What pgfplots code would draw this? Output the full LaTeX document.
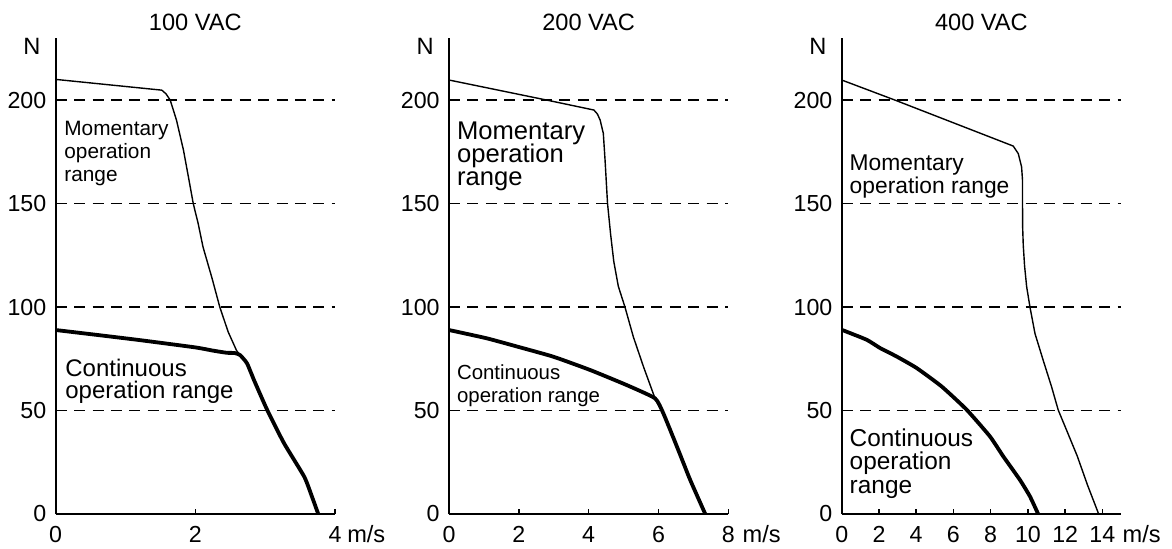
\documentclass[border=0pt]{standalone}
\usepackage{fontspec}
\setmainfont{Liberation Sans}
\usepackage{pgfplots}
\pgfplotsset{compat=1.18}
\newcommand\fs[1]{\fontsize{#1}{#1}\selectfont}
\pgfplotsset{
  panel/.style={
    scale only axis, width=139.65pt, height=238pt,
    anchor=south west,
    axis lines=left,
    axis line style={line width=1pt,-},
    ymin=0, ymax=230, ytick={0,50,100,150,200},
    ymajorgrids,
    grid style={dash pattern=on 5.5pt off 3.7pt, line width=0.7pt, black},
    tick align=inside, major tick length=2.3pt,
    xtick style={line width=0.7pt, black},
    ytick style={draw=none},
    clip=false,
    /pgf/number format/assume math mode=true,
    tick label style={font=\fs{11.6}, inner sep=0pt},
    yticklabel style={anchor=east, xshift=-4.5pt},
    xticklabel style={anchor=north, yshift=-6pt},
  },
  mom/.style={black, line width=0.7pt, line join=round},
  cont/.style={black, line width=1.9pt, line join=round},
}
\begin{document}
\begin{tikzpicture}
\path[use as bounding box] (0,0) rectangle (586pt,274pt);
% ---------------- 100 VAC
\begin{axis}[panel, at={(27.85pt,17pt)}, xmin=0, xmax=4, xtick={0,2,4}]
\addplot[mom] coordinates {(0,210) (1.52,204.8) (1.58,203) (1.64,200) (1.73,190.3) (1.83,175.8) (1.90,163) (1.97,150) (2.04,140.4) (2.11,129) (2.24,113.8) (2.35,100) (2.47,88) (2.59,79) (2.64,76.8)};
\addplot[cont, smooth, tension=0.3] coordinates {(0,88.9) (0.6,86.5) (1.21,84) (2.0,80.5) (2.26,78.9) (2.45,77.9) (2.56,77.8) (2.64,76.8) (2.74,72.8) (2.84,64.7) (3.03,50.2) (3.27,34.2) (3.56,18) (3.67,8.4) (3.76,0)};
\node[anchor=base, font=\fs{11.8}, inner sep=0pt] at (rel axis cs:0.5,1) [yshift=4pt] {100 VAC};
\node[anchor=north east, font=\fs{11.8}, inner sep=0pt] at (rel axis cs:0,1) [xshift=-7.5pt] {N};
\node[anchor=base west, font=\fs{11.8}, inner sep=0pt] at (axis cs:4.17,-14) {m/s};
\node[anchor=base west, font=\fs{10.4}, inner sep=0pt] at (axis cs:0.119,183.1) {Momentary};
\node[anchor=base west, font=\fs{10.4}, inner sep=0pt] at (axis cs:0.119,171.8) {operation};
\node[anchor=base west, font=\fs{10.4}, inner sep=0pt] at (axis cs:0.119,160.5) {range};
\node[anchor=base west, font=\fs{12}, inner sep=0pt] at (axis cs:0.133,66.3) {Continuous};
\node[anchor=base west, font=\fs{12}, inner sep=0pt] at (axis cs:0.133,55.9) {operation range};
\end{axis}
% ---------------- 200 VAC
\begin{axis}[panel, at={(224.5pt,17pt)}, xmin=0, xmax=8, xtick={0,2,4,6,8}]
\addplot[mom] coordinates {(0,209.7) (2.80,200) (4.15,195.2) (4.25,193.3) (4.33,190.3) (4.42,183.9) (4.47,171) (4.54,150.2) (4.63,135) (4.72,122) (4.85,110) (5.04,100) (5.28,85.6) (5.57,71.2) (5.90,55.9)};
\addplot[cont, smooth, tension=0.3] coordinates {(0,88.9) (1.08,84.9) (2.04,80.5) (2.99,76) (4.04,69.6) (5.09,62.3) (5.90,55.9) (6.14,48.6) (6.53,32.5) (6.91,16.4) (7.34,0)};
\node[anchor=base, font=\fs{11.8}, inner sep=0pt] at (rel axis cs:0.5,1) [yshift=4pt] {200 VAC};
\node[anchor=north east, font=\fs{11.8}, inner sep=0pt] at (rel axis cs:0,1) [xshift=-7.5pt] {N};
\node[anchor=base west, font=\fs{11.8}, inner sep=0pt] at (axis cs:8.40,-14) {m/s};
\node[anchor=base west, font=\fs{12.8}, inner sep=0pt] at (axis cs:0.22,181.2) {Momentary};
\node[anchor=base west, font=\fs{12.8}, inner sep=0pt] at (axis cs:0.22,169.7) {operation};
\node[anchor=base west, font=\fs{12.8}, inner sep=0pt] at (axis cs:0.22,158.6) {range};
\node[anchor=base west, font=\fs{10.2}, inner sep=0pt] at (axis cs:0.22,65.2) {Continuous};
\node[anchor=base west, font=\fs{10.2}, inner sep=0pt] at (axis cs:0.22,53.8) {operation range};
\end{axis}
% ---------------- 400 VAC
\begin{axis}[panel, at={(420.85pt,17pt)}, xmin=0, xmax=15, xtick={0,2,4,6,8,10,12,14}]
\addplot[mom] coordinates {(0,209.7) (2.86,200) (9.21,177.8) (9.48,174.2) (9.66,167.8) (9.71,161.3) (9.71,150) (9.72,138) (9.75,130) (9.82,120) (9.93,110) (10.11,100) (10.38,87.2) (10.82,74.3) (11.27,61.5) (11.63,50.2) (12.1,40) (12.65,28) (13.2,14) (13.8,0)};
\addplot[cont, smooth, tension=0.3] coordinates {(0,89) (1.34,84.2) (2.06,80.2) (2.95,76.1) (4.03,70.5) (5.37,61.6) (6.71,50.4) (7.96,37.5) (8.68,27.8) (9.57,16.5) (10.11,8.5) (10.55,0)};
\node[anchor=base, font=\fs{11.8}, inner sep=0pt] at (rel axis cs:0.5,1) [yshift=4pt] {400 VAC};
\node[anchor=north east, font=\fs{11.8}, inner sep=0pt] at (rel axis cs:0,1) [xshift=-7.5pt] {N};
\node[anchor=base west, font=\fs{11.8}, inner sep=0pt] at (axis cs:15.07,-14) {m/s};
\node[anchor=base west, font=\fs{11.4}, inner sep=0pt] at (axis cs:0.41,166.2) {Momentary};
\node[anchor=base west, font=\fs{11.4}, inner sep=0pt] at (axis cs:0.41,154.9) {operation range};
\node[anchor=base west, font=\fs{12.2}, inner sep=0pt] at (axis cs:0.41,32.5) {Continuous};
\node[anchor=base west, font=\fs{12.2}, inner sep=0pt] at (axis cs:0.41,21.3) {operation};
\node[anchor=base west, font=\fs{12.2}, inner sep=0pt] at (axis cs:0.41,10.1) {range};
\end{axis}
\end{tikzpicture}
\end{document}
